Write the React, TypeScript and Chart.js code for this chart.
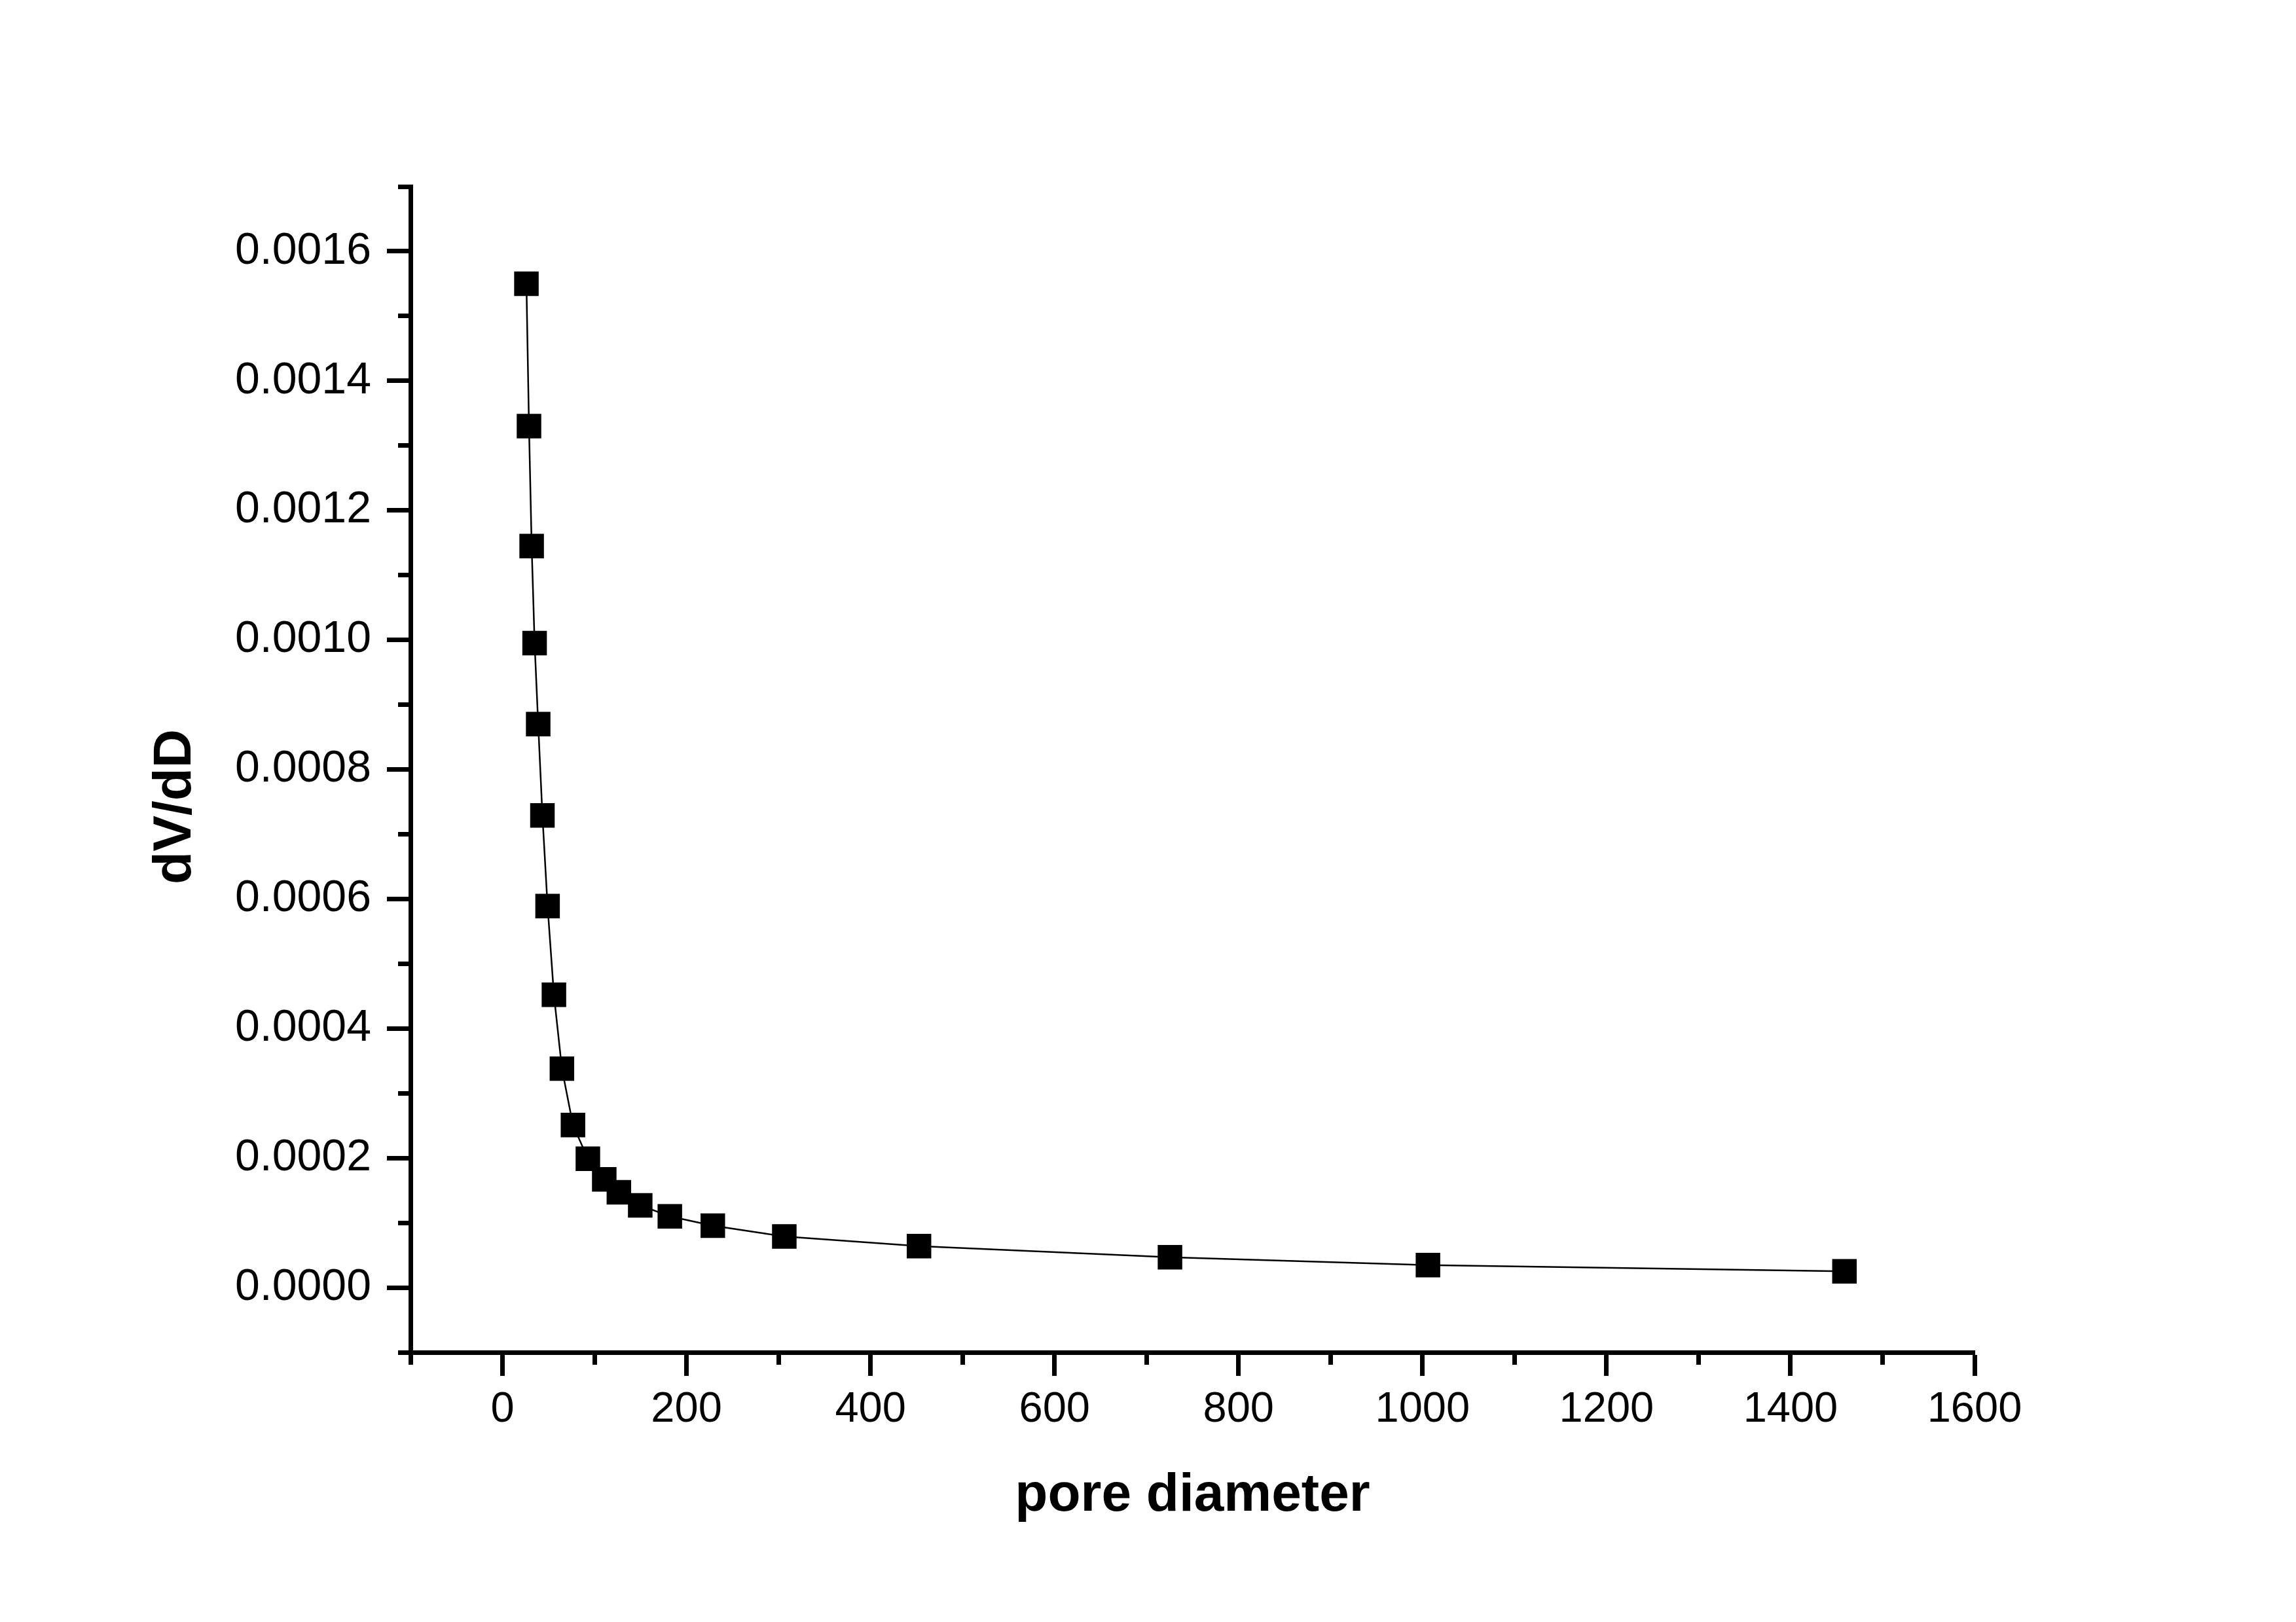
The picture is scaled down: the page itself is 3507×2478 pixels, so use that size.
import React, { useEffect, useRef } from "react";
import { Chart, registerables } from "chart.js";

Chart.register(...registerables);

// ---- data ----
const poreDiameter = [
  26, 28.8, 31.7, 34.9, 38.8, 43.4, 49.0, 55.9, 64.6, 76.6, 92.8, 110.6, 126.5,
  149.7, 181.9, 228.6, 306.3, 452.7, 725.5, 1005.9, 1458.6,
];
const dVdD = [
  0.00155, 0.00133, 0.001145, 0.000995, 0.00087, 0.000729, 0.000589, 0.000452,
  0.000338, 0.000251, 0.000199, 0.000167, 0.000147, 0.000127, 0.00011,
  0.0000956, 0.000079, 0.000064, 0.0000468, 0.0000346, 0.000025,
];

const xMajorTicks = [0, 200, 400, 600, 800, 1000, 1200, 1400, 1600];
const xMinorTicks = [-100, 100, 300, 500, 700, 900, 1100, 1300, 1500];
const yMajorTicks = [0, 0.0002, 0.0004, 0.0006, 0.0008, 0.001, 0.0012, 0.0014, 0.0016];
const yMinorTicks = [-0.0001, 0.0001, 0.0003, 0.0005, 0.0007, 0.0009, 0.0011, 0.0013, 0.0015, 0.0017];
const xRange = [-100, 1600];
const yRange = [-0.0001, 0.0017];
const xTitle = "pore diameter";
const yTitle = "dV/dD";

const W = 3507;
const H = 2478;
const FONT = '"Liberation Sans", Arial, Helvetica, sans-serif';
const AXIS_W = 7;

export default function App() {
  const ref = useRef<HTMLCanvasElement | null>(null);

  useEffect(() => {
    const canvas = ref.current;
    if (!canvas) return;
    const points = poreDiameter.map((x, i) => ({ x, y: dVdD[i] }));

    const minorGrid = {
      display: true,
      drawOnChartArea: false,
      drawTicks: true,
      tickLength: 19,
      tickWidth: AXIS_W,
      tickColor: "#000",
    };
    const majorGrid = {
      display: true,
      drawOnChartArea: false,
      drawTicks: true,
      tickLength: 36,
      tickWidth: AXIS_W,
      tickColor: "#000",
    };

    const chart = new Chart(canvas, {
      type: "scatter",
      data: {
        datasets: [
          {
            data: points,
            xAxisID: "x",
            yAxisID: "y",
            showLine: true,
            borderColor: "#000",
            borderWidth: 2.5,
            backgroundColor: "#000",
            pointStyle: "rect",
            pointRadius: 26.5,
            pointHoverRadius: 26.5,
            pointBackgroundColor: "#000",
            pointBorderWidth: 0,
            tension: 0,
          },
        ],
      },
      options: {
        responsive: false,
        animation: false,
        devicePixelRatio: 1,
        layout: { padding: { left: 0, top: 285, right: 491, bottom: 0 } },
        plugins: { legend: { display: false }, tooltip: { enabled: false } },
        scales: {
          x: {
            type: "linear",
            axis: "x",
            position: "bottom",
            weight: 1,
            min: xRange[0],
            max: xRange[1],
            afterBuildTicks: (s: any) => {
              s.ticks = xMajorTicks.map((v) => ({ value: v }));
            },
            afterFit: (s: any) => {
              s.height = H - 2066;
            },
            grid: majorGrid,
            border: { display: true, color: "#000", width: AXIS_W },
            ticks: {
              padding: 13,
              color: "#000",
              autoSkip: false,
              maxRotation: 0,
              font: { family: FONT, size: 65 },
              callback: (v: any) => String(v),
            },
            title: {
              display: true,
              text: xTitle,
              color: "#000",
              font: { family: FONT, size: 82, weight: "bold" },
              padding: { top: 0, bottom: 143 },
            },
          },
          xMinor: {
            type: "linear",
            axis: "x",
            position: "bottom",
            weight: 0,
            min: xRange[0],
            max: xRange[1],
            afterBuildTicks: (s: any) => {
              s.ticks = xMinorTicks.map((v) => ({ value: v }));
            },
            afterFit: (s: any) => {
              s.height = 0;
            },
            grid: minorGrid,
            border: { display: false },
            ticks: { display: false },
          },
          y: {
            type: "linear",
            axis: "y",
            position: "left",
            weight: 1,
            min: yRange[0],
            max: yRange[1],
            afterBuildTicks: (s: any) => {
              s.ticks = yMajorTicks.map((v) => ({ value: v }));
            },
            afterFit: (s: any) => {
              s.width = 627;
            },
            grid: majorGrid,
            border: { display: true, color: "#000", width: AXIS_W },
            ticks: {
              padding: 24,
              color: "#000",
              autoSkip: false,
              font: { family: FONT, size: 68 },
              callback: (v: any) => Number(v).toFixed(4),
            },
            title: {
              display: true,
              text: yTitle + "     ",
              color: "#000",
              font: { family: FONT, size: 82, weight: "bold" },
              padding: { top: 219, bottom: 0 },
            },
          },
          yMinor: {
            type: "linear",
            axis: "y",
            position: "left",
            weight: 0,
            min: yRange[0],
            max: yRange[1],
            afterBuildTicks: (s: any) => {
              s.ticks = yMinorTicks.map((v) => ({ value: v }));
            },
            afterFit: (s: any) => {
              s.width = 0;
            },
            grid: minorGrid,
            border: { display: false },
            ticks: { display: false },
          },
        },
      } as any,
    });

    return () => chart.destroy();
  }, []);

  return (
    <div style={{ position: "fixed", left: 0, top: 0, width: W, height: H, background: "#fff" }}>
      <canvas ref={ref} width={W} height={H} style={{ display: "block", width: W, height: H }} />
    </div>
  );
}
